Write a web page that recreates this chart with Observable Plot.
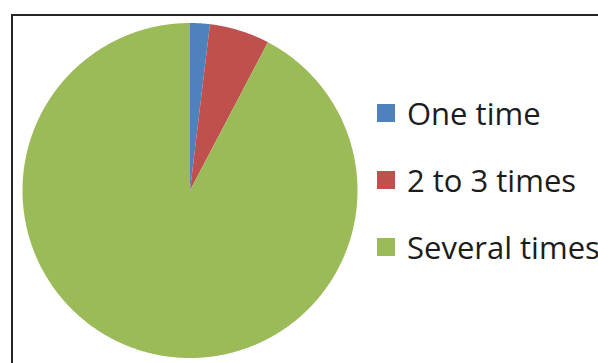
<!DOCTYPE html>
<html>
<head>
<meta charset="utf-8">
<script src="https://cdn.jsdelivr.net/npm/d3@7"></script>
<script src="https://cdn.jsdelivr.net/npm/@observablehq/plot@0.6"></script>
<style>
  html, body { margin: 0; padding: 0; background: #fff; overflow: hidden; width: 598px; height: 363px; }
  #wrap { position: relative; width: 598px; height: 363px; overflow: hidden; }
  #frame { position: absolute; left: 11px; top: 14px; width: 800px; height: 600px;
           border-left: 2px solid #262626; border-top: 2px solid #262626; box-sizing: border-box; }
  #chart { position: absolute; left: 0; top: 0; }
  #legend { position: absolute; left: 377px; top: 96px; font-family: "Open Sans", sans-serif;
            font-size: 31px; color: #1c1c1c; white-space: nowrap; }
  .item { display: flex; align-items: center; height: 33px; margin-bottom: 34px; }
  .sw { width: 18px; height: 18px; margin-right: 12px; flex: none; }
</style>
</head>
<body>
<div id="wrap">
  <div id="frame"></div>
  <div id="chart"></div>
  <div id="legend"></div>
</div>
<script>
const categories = ["One time", "2 to 3 times", "Several times"];
const values = [1.9, 5.8, 92.3];
const colors = ["#4F81BD", "#C0504D", "#9BBB59"];

const arcs = d3.pie().sort(null).value(d => d.value)(
  categories.map((c, i) => ({category: c, value: values[i]}))
);

const pts = [];
for (const a of arcs) {
  const cat = a.data.category;
  pts.push({category: cat, x: 0, y: 0});
  const n = Math.max(2, Math.ceil((a.endAngle - a.startAngle) / 0.005));
  for (let k = 0; k <= n; k++) {
    const t = a.startAngle + (a.endAngle - a.startAngle) * k / n;
    pts.push({category: cat, x: Math.sin(t), y: Math.cos(t)});
  }
}

const chart = Plot.plot({
  width: 598,
  height: 363,
  margin: 0,
  x: {domain: [-1, 1], range: [22, 357], axis: null},
  y: {domain: [-1, 1], range: [357.5, 22.5], axis: null},
  color: {domain: categories, range: colors},
  marks: [
    Plot.line(pts, {x: "x", y: "y", z: "category", fill: "category", stroke: null, curve: "linear-closed"})
  ]
});
document.getElementById("chart").appendChild(chart);

const legend = d3.select("#legend");
categories.forEach((c, i) => {
  const item = legend.append("div").attr("class", "item");
  item.append("div").attr("class", "sw").style("background", colors[i]);
  item.append("span").text(c);
});
</script>
</body>
</html>
